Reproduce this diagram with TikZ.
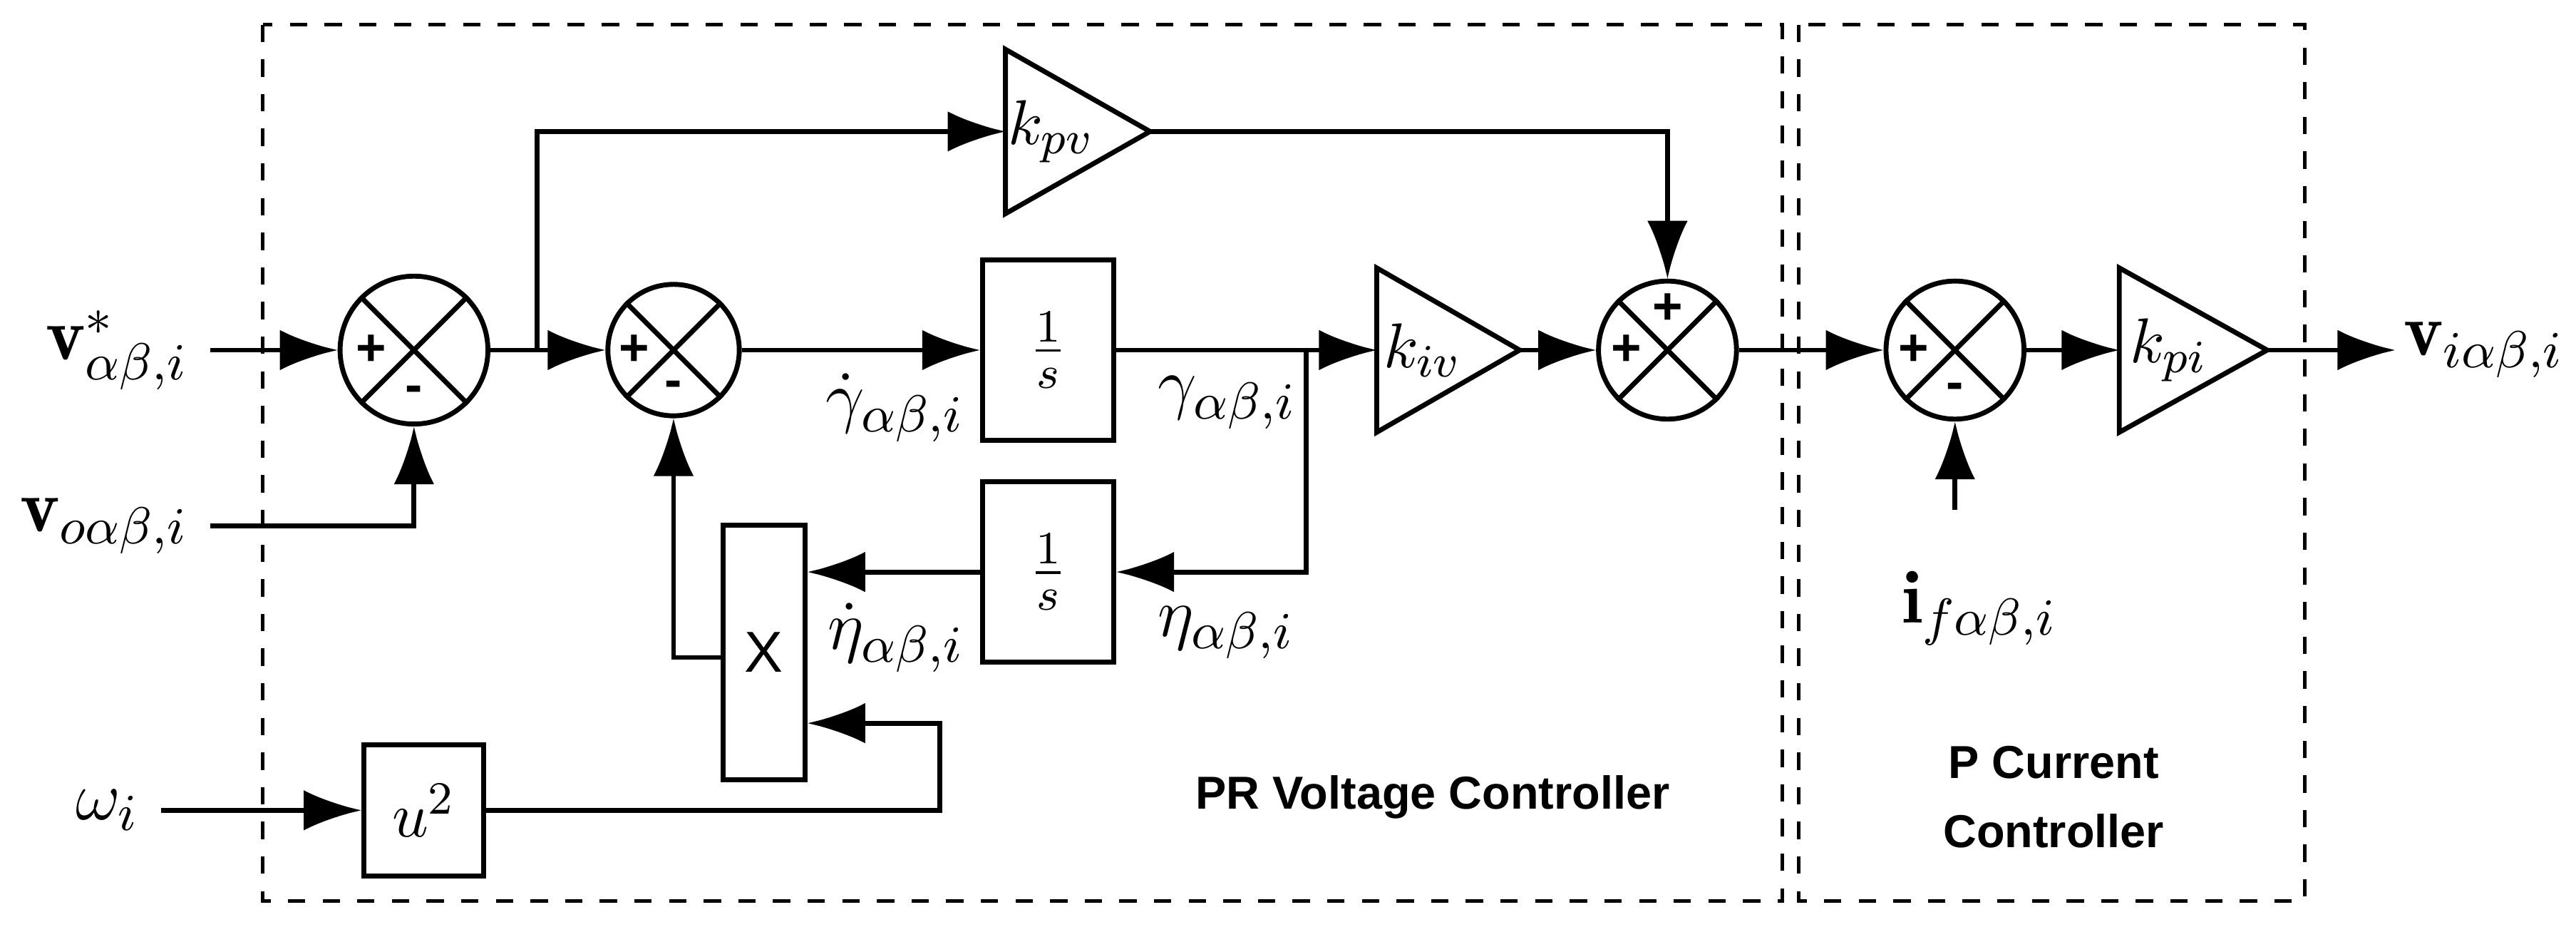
\documentclass[tikz,border=0pt]{standalone}
\usepackage{fontspec}
\newfontfamily\sff{Liberation Sans}
\usetikzlibrary{arrows.meta,calc}
\begin{document}
\begin{tikzpicture}[x=0.1mm,y=-0.1mm,line width=0.85pt,
  ar/.style={-{Latex[length=10pt,width=7pt]}},
  sumc/.style={circle,draw,minimum size=#1,inner sep=0pt},
  blk/.style={draw,rectangle,inner sep=0pt},
  lab/.style={font=\fontsize{13}{15}\selectfont},
  gl/.style={font=\fontsize{11}{13}\selectfont},
  sg/.style={font=\sff\bfseries\fontsize{9}{9}\selectfont,inner sep=0pt},
  box/.style={draw,dashed,line width=0.6pt}]
\useasboundingbox (0,0) rectangle (1568,570);
\draw[box] (160,15) rectangle (1085,548);
\draw[box] (1095,15) rectangle (1403,548);
% sums
\node[sumc=90*0.2845pt] (s1) at (252,213) {};
\node[sumc=80*0.2845pt] (s2) at (410,213) {};
\node[sumc=84*0.2845pt] (s3) at (1015,213) {};
\node[sumc=84*0.2845pt] (s4) at (1190,213) {};
\foreach \s in {s1,s2,s3,s4}{\draw (\s.north west)--(\s.south east) (\s.north east)--(\s.south west);}
\node[sg] at ($(s1.center)+(-26,0)$) {+};
\node[sg] at ($(s1.center)+(0,27)$) {-};
\node[sg] at ($(s2.center)+(-24,0)$) {+};
\node[sg] at ($(s2.center)+(0,24)$) {-};
\node[sg] at ($(s3.center)+(-25,0)$) {+};
\node[sg] at ($(s3.center)+(0,-25)$) {+};
\node[sg] at ($(s4.center)+(-25,0)$) {+};
\node[sg] at ($(s4.center)+(0,25)$) {-};
% gains
\draw (612,30)--(700,80)--(612,130)--cycle; \node[gl] (kpv) at (640,80) {$k_{pv}$};
\coordinate (kpvi) at (612,80); \coordinate (kpvo) at (700,80);
\draw (838,163)--(925,213)--(838,263)--cycle; \node[gl] at (866,213) {$k_{iv}$};
\coordinate (kivi) at (838,213); \coordinate (kivo) at (925,213);
\draw (1290,163)--(1380,213)--(1290,263)--cycle; \node[gl] at (1320,213) {$k_{pi}$};
\coordinate (kpii) at (1290,213); \coordinate (kpio) at (1380,213);
% blocks
\node[blk,minimum width=80*0.2845pt,minimum height=110*0.2845pt,gl] (i1) at (638,213) {$\frac{1}{s}$};
\node[blk,minimum width=80*0.2845pt,minimum height=110*0.2845pt,gl] (i2) at (638,348) {$\frac{1}{s}$};
\node[blk,minimum width=50*0.2845pt,minimum height=155*0.2845pt,font=\sff\fontsize{10}{12}\selectfont] (m) at (465,397) {X};
\node[blk,minimum width=73*0.2845pt,minimum height=80*0.2845pt,gl] (u) at (258,493) {$u^2$};
% inputs/outputs
\node[lab,anchor=east] (vr) at (128,213) {$\mathbf{v}^*_{\alpha\beta,i}$};
\node[lab,anchor=east] (vo) at (128,320) {$\mathbf{v}_{o\alpha\beta,i}$};
\node[lab,anchor=east] (w) at (98,493) {$\omega_i$};
\node[lab] (ifa) at (1205,370) {$\mathbf{i}_{f\alpha\beta,i}$};
\coordinate (ifs) at (1190,310);
\node[lab,anchor=west,inner sep=1pt] (vi) at (1458,213) {$\mathbf{v}_{i\alpha\beta,i}$};
\node[lab,anchor=east,inner sep=1pt] at (592,248) {$\dot\gamma_{\alpha\beta,i}$};
\node[lab,anchor=west,inner sep=1pt] at (700,245) {$\gamma_{\alpha\beta,i}$};
\node[lab,anchor=west,inner sep=1pt] at (700,385) {$\eta_{\alpha\beta,i}$};
\node[lab,anchor=east,inner sep=1pt] at (592,388) {$\dot\eta_{\alpha\beta,i}$};
\node[font=\sff\bfseries\fontsize{8}{10}\selectfont] at (872,485) {PR Voltage Controller};
\node[font=\sff\bfseries\fontsize{8}{10}\selectfont,align=center] at (1250,485) {P Current\\[2pt]Controller};
% connectors
\draw[ar] (vr.east) -- (s1.west);
\draw[ar] (vo.east) -| (s1.south);
\coordinate (b1) at (327,213);
\draw[ar] (s1.east) -- (s2.west);
\draw[ar] (b1) |- (kpvi);
\draw[ar] (kpvo) -| (s3.north);
\draw[ar] (s2.east) -- (i1.west);
\draw[ar] (i1.east) -- (kivi);
\coordinate (b2) at (795,213);
\draw[ar] (b2) |- (i2.east);
\draw[ar] (i2.west) -- (m.east |- i2.west);
\draw[ar] (m.west |- 0,400) -| (s2.south);
\draw[ar] (kivo) -- (s3.west);
\draw[ar] (s3.east) -- (s4.west);
\draw[ar] (ifs) -- (s4.south);
\draw[ar] (s4.east) -- (kpii);
\draw[ar] (kpio) -- (vi.west);
\draw[ar] (w.east) -- (u.west);
\draw[ar] (u.east) -| (572,440) -- (m.east |- 0,440);
\end{tikzpicture}
\end{document}
